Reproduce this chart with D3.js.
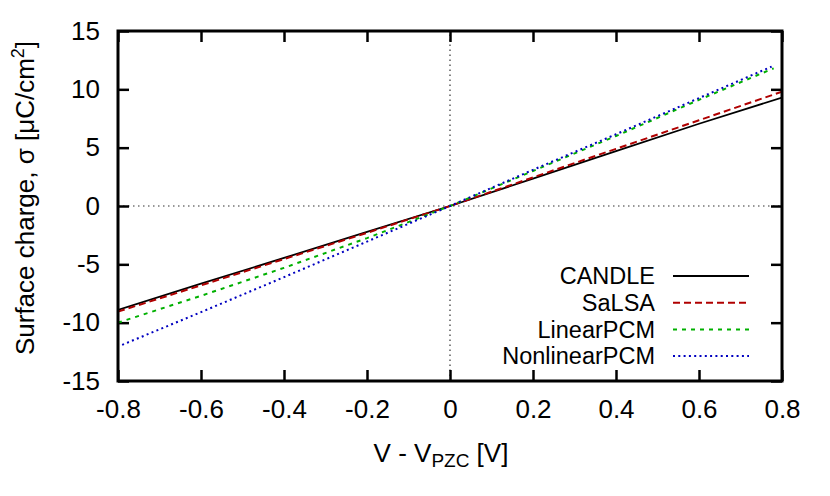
<!DOCTYPE html>
<html>
<head>
<meta charset="utf-8">
<script src="https://cdn.jsdelivr.net/npm/d3@7"></script>
<style>
  body { margin: 0; background: #fff; }
  text { font-family: "Liberation Sans", Arial, sans-serif; }
</style>
</head>
<body>
<svg id="chart"></svg>
<script>
/// data ///
const candleV = [-0.8, -0.6, -0.4, -0.2, 0, 0.2, 0.4, 0.6, 0.8];
const candleS = [-8.9, -6.65, -4.45, -2.22, 0, 2.35, 4.7, 7.05, 9.3];
const salsaV = [-0.8, -0.6, -0.4, -0.2, 0, 0.2, 0.4, 0.6, 0.8];
const salsaS = [-9.05, -6.8, -4.55, -2.3, 0, 2.45, 4.9, 7.35, 9.8];
const linearV = [-0.8, -0.6, -0.4, -0.2, 0, 0.2, 0.4, 0.6, 0.78];
const linearS = [-10.0, -7.7, -5.3, -2.75, 0, 3.0, 6.0, 9.1, 11.8];
const nonlinV = [-0.79, -0.6, -0.4, -0.2, 0, 0.2, 0.4, 0.6, 0.775];
const nonlinS = [-11.9, -9.1, -6.1, -3.05, 0, 3.1, 6.15, 9.25, 11.95];
const seriesNames = ["CANDLE", "SaLSA", "LinearPCM", "NonlinearPCM"];
const xTicks = [-0.8, -0.6, -0.4, -0.2, 0, 0.2, 0.4, 0.6, 0.8];
const yTicks = [-15, -10, -5, 0, 5, 10, 15];

/// dimensions ///
const width = 830;
const height = 496;
const margin = {top: 31, right: 48, bottom: 115, left: 118};

const styles = [
  {color: "#000000", dash: null},
  {color: "#b00000", dash: "7,4"},
  {color: "#00b000", dash: "4,5"},
  {color: "#0000c0", dash: "2,3.3"}
];

const series = [
  d3.zip(candleV, candleS),
  d3.zip(salsaV, salsaS),
  d3.zip(linearV, linearS),
  d3.zip(nonlinV, nonlinS)
];

// plain hyphen for negatives, like the original plot
const fmtX = d => d === 0 ? "0" : d3.format(".1f")(d).replace("\u2212", "-");
const fmtY = d => String(d);

const svg = d3.select("#chart")
  .attr("width", width)
  .attr("height", height);

// scales
const x = d3.scaleLinear()
  .domain([-0.8, 0.8])
  .range([margin.left, width - margin.right]);
const y = d3.scaleLinear()
  .domain([-15, 15])
  .range([height - margin.bottom, margin.top]);

svg.append("defs").append("clipPath").attr("id", "clip")
  .append("rect")
  .attr("x", x(-0.8)).attr("y", y(15))
  .attr("width", x(0.8) - x(-0.8)).attr("height", y(-15) - y(15));

// zero lines
svg.append("line")
  .attr("x1", x(-0.8)).attr("x2", x(0.8))
  .attr("y1", y(0)).attr("y2", y(0))
  .attr("stroke", "#333").attr("stroke-width", 1.2)
  .attr("stroke-dasharray", "1.5,3.5");
svg.append("line")
  .attr("x1", x(0)).attr("x2", x(0))
  .attr("y1", y(-15)).attr("y2", y(15))
  .attr("stroke", "#333").attr("stroke-width", 1.2)
  .attr("stroke-dasharray", "1.5,3.5");

// axes: ticks inward on all four sides
const tickLen = 11;
const fontSize = 26;

const xAxisBottom = g => g
  .attr("transform", `translate(0,${y(-15)})`)
  .call(d3.axisBottom(x).tickValues(xTicks).tickSize(-tickLen).tickPadding(tickLen + 8)
    .tickFormat(fmtX))
  .call(g => g.select(".domain").remove());
const xAxisTop = g => g
  .attr("transform", `translate(0,${y(15)})`)
  .call(d3.axisTop(x).tickValues(xTicks).tickSize(-tickLen).tickFormat(""))
  .call(g => g.select(".domain").remove());
const yAxisLeft = g => g
  .attr("transform", `translate(${x(-0.8)},0)`)
  .call(d3.axisLeft(y).tickValues(yTicks).tickSize(-tickLen).tickPadding(tickLen + 7)
    .tickFormat(fmtY))
  .call(g => g.select(".domain").remove());
const yAxisRight = g => g
  .attr("transform", `translate(${x(0.8)},0)`)
  .call(d3.axisRight(y).tickValues(yTicks).tickSize(-tickLen).tickFormat(""))
  .call(g => g.select(".domain").remove());

[xAxisBottom, xAxisTop, yAxisLeft, yAxisRight].forEach(ax => {
  svg.append("g").call(ax)
    .call(g => g.selectAll(".tick line").attr("stroke", "#000").attr("stroke-width", 2.5))
    .call(g => g.selectAll(".tick text")
      .attr("font-size", fontSize)
      .attr("font-family", "Liberation Sans, Arial, sans-serif")
      .attr("fill", "#000"));
});

// lines
const line = d3.line().x(d => x(d[0])).y(d => y(d[1]));
svg.append("g").attr("clip-path", "url(#clip)")
  .selectAll("path")
  .data(series)
  .join("path")
    .attr("d", line)
    .attr("fill", "none")
    .attr("stroke", (d, i) => styles[i].color)
    .attr("stroke-width", (d, i) => i === 0 ? 1.8 : 2)
    .attr("stroke-dasharray", (d, i) => styles[i].dash);

// frame
svg.append("rect")
  .attr("x", x(-0.8)).attr("y", y(15))
  .attr("width", x(0.8) - x(-0.8)).attr("height", y(-15) - y(15))
  .attr("fill", "none").attr("stroke", "#000").attr("stroke-width", 3);

// legend
const legend = svg.append("g");
const legendY0 = 276;
const legendStep = 26.7;
seriesNames.forEach((name, i) => {
  const ly = legendY0 + i * legendStep;
  legend.append("text")
    .attr("x", 655).attr("y", ly)
    .attr("dy", "0.35em")
    .attr("text-anchor", "end")
    .attr("font-size", 23.5)
    .text(name);
  legend.append("line")
    .attr("x1", 673).attr("x2", 749)
    .attr("y1", ly).attr("y2", ly)
    .attr("stroke", styles[i].color)
    .attr("stroke-width", i === 0 ? 1.8 : 2)
    .attr("stroke-dasharray", styles[i].dash);
});

// axis labels
const xl = svg.append("text")
  .attr("x", 441).attr("y", 462)
  .attr("text-anchor", "middle")
  .attr("font-size", fontSize);
xl.append("tspan").text("V - V");
xl.append("tspan").attr("baseline-shift", "-25%").attr("font-size", 19).text("PZC");
xl.append("tspan").text(" [V]");

const yl = svg.append("text")
  .attr("transform", `translate(34,198) rotate(-90)`)
  .attr("text-anchor", "middle")
  .attr("font-size", fontSize);
yl.append("tspan").text("Surface charge, σ [μC/cm");
yl.append("tspan").attr("baseline-shift", "super").attr("font-size", 18).text("2");
yl.append("tspan").text("]");
</script>
</body>
</html>
